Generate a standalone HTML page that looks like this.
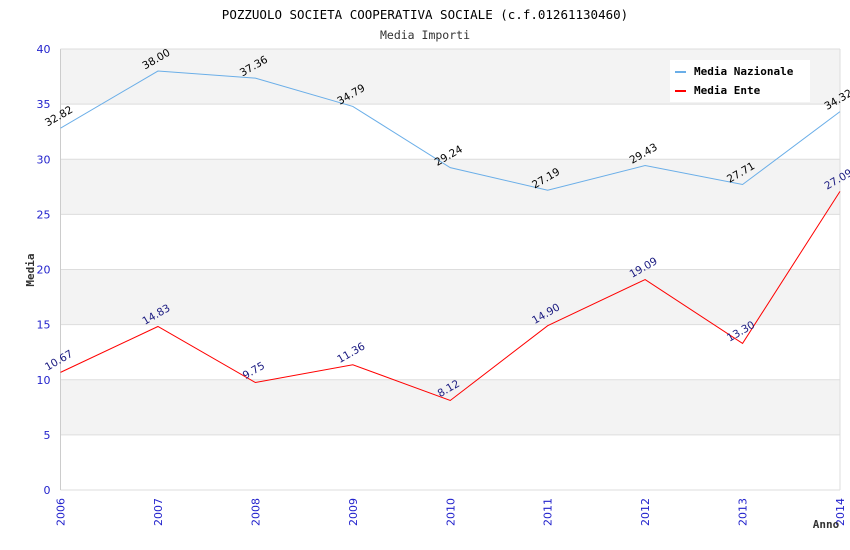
<!DOCTYPE html>
<html><head><meta charset="utf-8"><style>
body{margin:0;background:#fff}
svg{display:block;font-family:"DejaVu Sans","Liberation Sans",sans-serif}
</style></head><body>
<svg id="chart" width="850" height="550">
<text x="425" y="19" text-anchor="middle" font-family="DejaVu Sans Mono,Liberation Mono,monospace" font-size="12.5" fill="#000">POZZUOLO SOCIETA COOPERATIVA SOCIALE (c.f.01261130460)</text>
<text x="425" y="39" text-anchor="middle" font-family="DejaVu Sans Mono,Liberation Mono,monospace" font-size="11.5" fill="#333">Media Importi</text>
<g id="bands"></g><g id="axes"></g><g id="series"></g>
<text x="34" y="270" transform="rotate(-90 34 270)" text-anchor="middle" font-family="DejaVu Sans Mono,monospace" font-weight="bold" font-size="11" fill="#333">Media</text>
<text x="826" y="528" text-anchor="middle" font-family="DejaVu Sans Mono,monospace" font-weight="bold" font-size="11" fill="#333">Anno</text>
<g>
<rect x="670" y="60" width="140" height="42" fill="#fff"/>
<line x1="675" y1="72" x2="686" y2="72" stroke="#6aaee8" stroke-width="2"/>
<text x="694" y="75" font-family="DejaVu Sans Mono,monospace" font-weight="bold" font-size="11">Media Nazionale</text>
<line x1="675" y1="91" x2="686" y2="91" stroke="#f00" stroke-width="2"/>
<text x="694" y="94" font-family="DejaVu Sans Mono,monospace" font-weight="bold" font-size="11">Media Ente</text>
</g>
</svg>
<script>
const years=["2006","2007","2008","2009","2010","2011","2012","2013","2014"];
const nazionale=[32.82,38.00,37.36,34.79,29.24,27.19,29.43,27.71,34.32];
const ente=[10.67,14.83,9.75,11.36,8.12,14.90,19.09,13.30,27.09];
const yTicks=[0,5,10,15,20,25,30,35,40];
const NS="http://www.w3.org/2000/svg";
const L=60.5,R=840,T=49,B=490,YMAX=40;
const x=i=>L+(R-L)*i/(years.length-1);
const y=v=>B-(B-T)*v/YMAX;
function mk(t,a,p){const e=document.createElementNS(NS,t);for(const k in a)e.setAttribute(k,a[k]);p.appendChild(e);return e;}
const bands=document.getElementById('bands'),axes=document.getElementById('axes'),ser=document.getElementById('series');
for(let i=0;i<yTicks.length-1;i++){
  const v0=yTicks[i],v1=yTicks[i+1];
  if(i%2===1){const r=mk('rect',{x:L,y:y(v1),width:R-L,height:y(v0)-y(v1),fill:'#f3f3f3'},bands);
  
  }
}
yTicks.forEach(v=>{
  const g=mk('line',{x1:L,x2:R,y1:y(v),y2:y(v),stroke:'#dddddd','stroke-width':1},axes);
  
  
  const t=mk('text',{x:L-10,y:y(v)+4,'text-anchor':'end','font-size':11,fill:'#22c'},axes);t.textContent=v;
  
  
});
mk('line',{x1:L,x2:L,y1:T,y2:B,stroke:'#ccc'},axes);
mk('line',{x1:R,x2:R,y1:T,y2:B,stroke:'#ddd'},axes);
mk('line',{x1:L,x2:R,y1:T,y2:T,stroke:'#ddd'},axes);
years.forEach((yr,i)=>{
  const t=mk('text',{x:x(i)+4,y:B+8,'text-anchor':'end','font-size':11,fill:'#22c',transform:`rotate(-90 ${x(i)+4} ${B+8})`},axes);t.textContent=yr;
  
  
});
function series(vals,color,lblColor,name){
  const p=mk('polyline',{points:vals.map((v,i)=>x(i)+','+y(v)).join(' '),fill:'none',stroke:color,'stroke-width':1},ser);
  
  
  vals.forEach((v,i)=>{
    const lx=x(i),ly=y(v)-9;
    const t=mk('text',{x:lx,y:ly,'text-anchor':'middle','font-size':10.5,fill:lblColor,transform:`rotate(-30 ${lx} ${ly})`},ser);
    t.textContent=v.toFixed(2);
    
    
  });
}
series(nazionale,'#6aaee8','#000','nazionale');
series(ente,'#f00','#1a1a80','ente');
</script>
</body></html>
